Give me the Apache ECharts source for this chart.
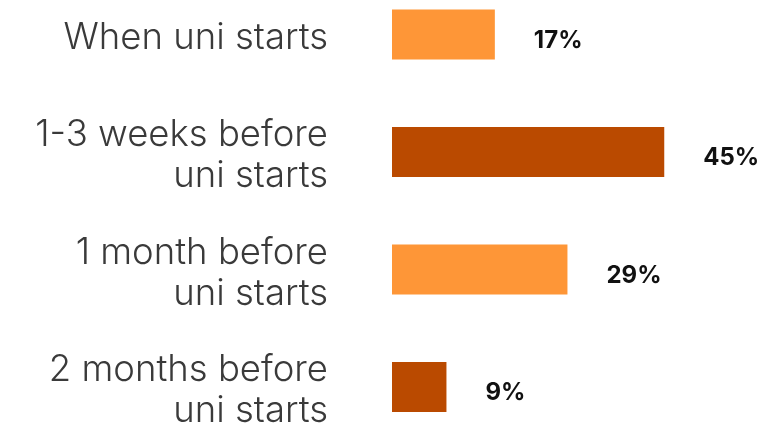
<!DOCTYPE html>
<html>
<head>
<meta charset="utf-8">
<script src="https://cdn.jsdelivr.net/npm/echarts@6/dist/echarts.min.js"></script>
<style>
html,body{margin:0;padding:0;background:#fff;}
#c{width:764px;height:428px;}
</style>
</head>
<body>
<div id="c"></div>
<script>
const categories = ["When uni starts", "1-3 weeks before\nuni starts", "1 month before\nuni starts", "2 months before\nuni starts"];
const values = [17, 45, 29, 9];
const barColors = ["#FE9637", "#BA4A00", "#FE9637", "#BA4A00"];

const chart = echarts.init(document.getElementById('c'), null, {renderer: 'canvas'});
chart.setOption({
  animation: false,
  backgroundColor: '#ffffff',
  grid: {left: 392, top: -24.25, height: 470, width: 363, outerBoundsMode: 'none', containLabel: false},
  xAxis: {type: 'value', min: 0, max: 60, show: false},
  yAxis: {
    type: 'category', inverse: true, data: categories,
    axisLine: {show: false}, axisTick: {show: false},
    axisLabel: {
      margin: 64, color: '#3a3a3a', align: 'right',
      formatter: v => '{a|' + v + '}',
      rich: {
        a: {fontFamily: '"Inter Light", Inter', fontWeight: 300, fontSize: 36.5,
            lineHeight: 41, color: '#3a3a3a', align: 'right', padding: [8, 0, 0, 0]}
      }
    }
  },
  series: [{
    type: 'bar', barWidth: 50,
    data: values.map((v, i) => ({value: v, itemStyle: {color: barColors[i]}})),
    label: {
      show: true, position: 'right', distance: 39,
      formatter: p => p.value + '%',
      fontFamily: 'Inter', fontWeight: 'bold', fontSize: 24, color: '#111',
      offset: [0, 6]
    }
  }]
});
</script>
</body>
</html>
